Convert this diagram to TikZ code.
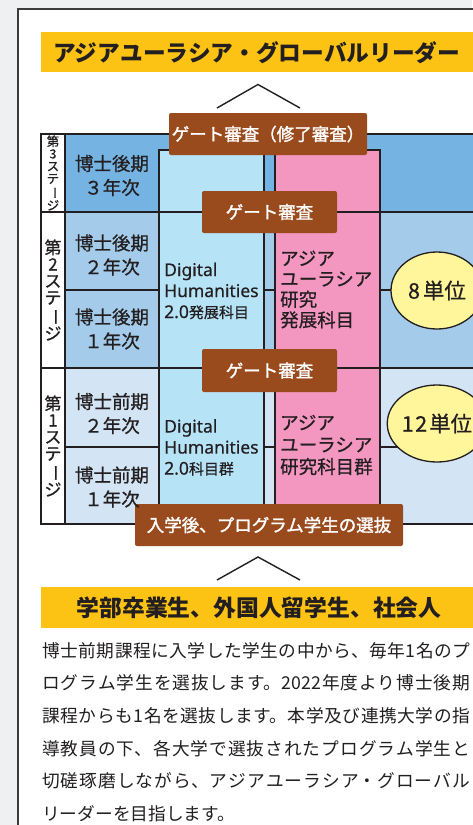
\documentclass[tikz,border=0pt]{standalone}
\usepackage{fontspec}
\setmainfont{Noto Sans CJK JP}
\newfontfamily\latinsans{Noto Sans}[FakeBold=0.5]
\newfontfamily\medfont{Noto Sans CJK JP}[FakeBold=0.7]
\newfontfamily\semibold{Noto Sans CJK JP}[FakeBold=1.6]
\usetikzlibrary{shapes.geometric}
\XeTeXlinebreaklocale "ja"
\XeTeXlinebreakskip=0pt plus 2pt
\definecolor{bggray}{HTML}{EEF0F2}
\definecolor{frameline}{HTML}{3C3C3C}
\definecolor{banner}{HTML}{FDC314}
\definecolor{ink}{HTML}{231F20}
\definecolor{stagethree}{HTML}{74B3E2}
\definecolor{stagetwo}{HTML}{A4CBEA}
\definecolor{stageone}{HTML}{D3E4F4}
\definecolor{dhcol}{HTML}{B7E3F7}
\definecolor{pinkcol}{HTML}{F397C0}
\definecolor{gatebrown}{HTML}{9A4B1D}
\definecolor{unityellow}{HTML}{FFF59B}
\newcommand\tatebar{\rotatebox[origin=c]{-90}{ー}}
\begin{document}
\begin{tikzpicture}[x=1pt,y=-1pt,
  gatebox/.style={fill=gatebrown, text=white, rounded corners=2pt, inner sep=0pt,
    font=\semibold\fontsize{17.5}{20}\selectfont},
  yearcell/.style={text=ink, align=center, inner sep=0pt, font=\medfont\fontsize{18.5}{24}\selectfont},
  stagelabel/.style={text=ink, align=center, inner sep=0pt},
  dhtext/.style={text=ink, align=left, inner sep=0pt, anchor=west, font=\medfont\fontsize{17.5}{21}\selectfont},
  pinktext/.style={text=ink, align=left, inner sep=0pt, anchor=west},
  unit/.style={ellipse, draw=ink, line width=1.3pt, fill=unityellow, minimum width=92pt,
    minimum height=77pt, inner sep=0pt, text=ink, font=\medfont\fontsize{21.5}{22}\selectfont},
  thickrule/.style={draw=ink, line width=1.8pt},
  thinrule/.style={draw=ink, line width=1.1pt},
  chevron/.style={draw=ink, line width=1.4pt},
  bannertext/.style={text=ink, inner sep=0pt, anchor=west, font=\fontsize{22.7}{24}\bfseries}]
\useasboundingbox (0,0) rectangle (472,825);
\fill[bggray] (0,0) rectangle (472,825);
\filldraw[fill=white, draw=frameline, line width=2pt] (18,9) rectangle (520,900);
% title banner
\fill[banner] (41,32) rectangle (520,72);
\node[bannertext] (title) at (53,52.5) {アジアユーラシア・グローバルリーダー};
% chevron top
\coordinate (ctl) at (217,108); \coordinate (cta) at (258,84.5); \coordinate (ctr) at (300,108);
\draw[chevron] (ctl) -- (cta) -- (ctr);
% table fills
\fill[white] (41,134) rectangle (65,524);
\fill[stagethree] (65,134) rectangle (520,212);
\fill[stagetwo] (65,212) rectangle (520,368);
\fill[stageone] (65,368) rectangle (520,524);
\fill[dhcol] (159,150) rectangle (264,524);
\fill[pinkcol] (275,150) rectangle (380,524);
% lines
\draw[thinrule] (65,290) -- (159,290) (264,290) -- (275,290) (380,290) -- (520,290);
\draw[thinrule] (65,447) -- (159,447) (264,447) -- (275,447) (380,447) -- (520,447);
\draw[thinrule] (159,150) rectangle (264,524);
\draw[thinrule] (275,150) rectangle (380,524);
\draw[thinrule] (65,134) -- (65,524);
\draw[thickrule] (41,212) -- (520,212) (41,368) -- (520,368);
\draw[thickrule] (520,134) -- (41,134) -- (41,524) -- (520,524);
% gate boxes
\node[gatebox, minimum width=198pt, minimum height=42pt] (gate3) at (268,134) {ゲート審査（修了審査）};
\node[gatebox, minimum width=135pt, minimum height=42pt] (gate2) at (269.5,212) {ゲート審査};
\node[gatebox, minimum width=135pt, minimum height=43pt] (gate1) at (269.5,370.5) {ゲート審査};
\node[gatebox, minimum width=268pt, minimum height=42pt] (entry) at (269,525) {入学後、プログラム学生の選抜};
% ellipses
\node[unit] (u8) at (437,290.5) {8\hspace{3pt}単位};
\node[unit] (u12) at (437,423.5) {1\hspace{1.5pt}2\hspace{2pt}単位};
% stage labels
\node[stagelabel, font=\medfont\fontsize{12.5}{12.4}\selectfont] (s3) at (53,173) {第\\3\\ス\\テ\\\tatebar\\ジ};
\node[stagelabel, font=\medfont\fontsize{17}{16.7}\selectfont] (s2) at (53,290) {第\\2\\ス\\テ\\\tatebar\\ジ};
\node[stagelabel, font=\medfont\fontsize{17}{16.7}\selectfont] (s1) at (53,446) {第\\1\\ス\\テ\\\tatebar\\ジ};
% year cells
\node[yearcell] (y3) at (112,175.5) {博士後期\\３年次};
\node[yearcell] (y2b) at (112,255) {博士後期\\２年次};
\node[yearcell] (y2a) at (112,329) {博士後期\\１年次};
\node[yearcell] (y1b) at (112,413.5) {博士前期\\２年次};
\node[yearcell] (y1a) at (112,487) {博士前期\\１年次};
% DH columns
\node[dhtext] (dh2) at (164,291) {\latinsans Digital\\\latinsans Humanities\\{\latinsans 2.0}{\fontsize{15}{21}\selectfont 発展科目}};
\node[dhtext] (dh1) at (164,447.5) {\latinsans Digital\\\latinsans Humanities\\{\latinsans 2.0}{\fontsize{15}{21}\selectfont 科目群}};
% pink columns
\node[pinktext, font=\medfont\fontsize{18.5}{20.5}\selectfont] (pk2) at (280,289.5) {アジア\\ユーラシア\\研究\\発展科目};
\node[pinktext, font=\medfont\fontsize{18.5}{22}\selectfont] (pk1) at (280,445) {アジア\\ユーラシア\\研究科目群};
% chevron bottom
\coordinate (cbl) at (217,580); \coordinate (cba) at (258,557); \coordinate (cbr) at (300,580);
\draw[chevron] (cbl) -- (cba) -- (cbr);
% bottom banner
\fill[banner] (41,587) rectangle (520,628);
\node[bannertext, font=\fontsize{22.8}{24}\bfseries] (origin) at (76.5,607.5) {学部卒業生、外国人留学生、社会人};
% paragraph
\node[anchor=north west, inner sep=0pt, text width=428pt, align=justify, text=ink,
  font=\fontsize{17.7}{32.7}\selectfont] (para) at (42,642)
 {博士前期課程に入学した学生の中から、毎年1名のプ\linebreak
  ログラム学生を選抜します。2022年度より博士後期\linebreak
  課程からも1名を選抜します。本学及び連携大学の指\linebreak
  導教員の下、各大学で選抜されたプログラム学生と\linebreak
  切磋琢磨しながら、アジアユーラシア・グローバル\linebreak
  リーダーを目指します。};
\end{tikzpicture}
\end{document}
